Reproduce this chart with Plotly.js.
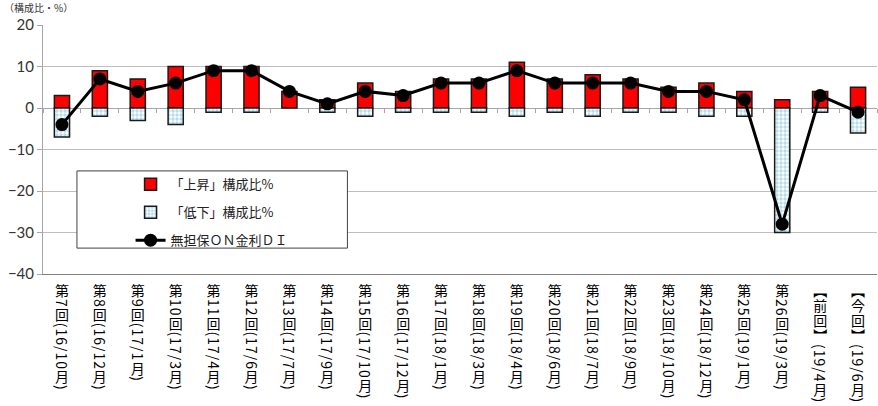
<!DOCTYPE html>
<html>
<head>
<meta charset="utf-8">
<script src="https://cdn.plot.ly/plotly-3.0.1.min.js"></script>
<style>
html,body{margin:0;padding:0;background:#fff;}
#chart{width:878px;height:406px;}
</style>
</head>
<body>
<div id="chart"></div>
<script>
// ---- data ----
const categories = [
  "第7回(16/10月)","第8回(16/12月)","第9回(17/1月)","第10回(17/3月)","第11回(17/4月)",
  "第12回(17/6月)","第13回(17/7月)","第14回(17/9月)","第15回(17/10月)","第16回(17/12月)",
  "第17回(18/1月)","第18回(18/3月)","第19回(18/4月)","第20回(18/6月)","第21回(18/7月)",
  "第22回(18/9月)","第23回(18/10月)","第24回(18/12月)","第25回(19/1月)","第26回(19/3月)",
  "【前回】(19/4月)","【今回】(19/6月)"
];
const upShare   = [3, 9, 7, 10, 10, 10, 4, 2, 6, 4, 7, 7, 11, 7, 8, 7, 5, 6, 4, 2, 4, 5];
const downShare = [-7, -2, -3, -4, -1, -1, 0, -1, -2, -1, -1, -1, -2, -1, -2, -1, -1, -2, -2, -30, -1, -6];
const diValues  = [-4, 7, 4, 6, 9, 9, 4, 1, 4, 3, 6, 6, 9, 6, 6, 6, 4, 4, 2, -28, 3, -1];
const seriesNames = ["「上昇」構成比%", "「低下」構成比%", "無担保ＯＮ金利ＤＩ"];
const yTickVals = [20, 10, 0, -10, -20, -30, -40];
const yRange = [-40, 20];
const unitLabel = "（構成比・%）";

const jp = '"Noto Sans CJK JP", "Noto Sans", sans-serif';
const boundaries = categories.map((c, i) => i - 0.5).concat([categories.length - 0.5]);

const data = [
  {
    type: 'bar', x: categories, y: upShare, name: seriesNames[0], legendgroup: 'a',
    marker: {color: '#ff0000', line: {color: '#1a1a1a', width: 1.5}}
  },
  {
    type: 'bar', x: categories, y: downShare, name: seriesNames[1], legendgroup: 'b',
    marker: {color: '#ffffff', line: {color: '#1a1a1a', width: 1.5},
      pattern: {shape: '.', fgcolor: '#b4dceb', bgcolor: '#ffffff', size: 4, solidity: 0.55}}
  },
  {
    type: 'scatter', mode: 'lines+markers', x: categories, y: diValues, name: seriesNames[2], legendgroup: 'c',
    line: {color: '#000000', width: 3}, marker: {color: '#000000', size: 13}
  },
  {
    type: 'scatter', x: [], y: [], xaxis: 'x2', showlegend: false, hoverinfo: 'skip'
  }
];

const layout = {
  width: 878, height: 406,
  margin: {l: 43, r: 1, t: 25, b: 132},
  paper_bgcolor: '#ffffff', plot_bgcolor: '#ffffff',
  barmode: 'relative', bargap: 0.6,
  showlegend: true,
  legend: {
    x: 0.105, y: 0.42, xanchor: 'left', yanchor: 'top',
    bgcolor: 'rgba(0,0,0,0)', borderwidth: 0,
    traceorder: 'grouped', tracegroupgap: 8,
    font: {family: jp, size: 13, color: '#222'}
  },
  xaxis: {
    type: 'category', range: [-0.5, categories.length - 0.5],
    showgrid: false, showline: true, linecolor: '#7f7f7f', linewidth: 1,
    ticks: '', tickangle: 0,
    tickfont: {family: jp, size: 14, color: '#000'}
  },
  xaxis2: {
    overlaying: 'x', anchor: 'free', side: 'bottom',
    position: (0 - yRange[0]) / (yRange[1] - yRange[0]),
    range: [-0.5, categories.length - 0.5],
    tickmode: 'array', tickvals: boundaries, ticks: 'outside', ticklen: 4, tickcolor: '#a6a6a6',
    showticklabels: false, showgrid: false, showline: false, zeroline: false
  },
  yaxis: {
    range: yRange, tickmode: 'array', tickvals: yTickVals,
    showgrid: true, gridcolor: '#bfbfbf', gridwidth: 1,
    zeroline: true, zerolinecolor: '#a6a6a6', zerolinewidth: 1,
    showline: true, linecolor: '#a6a6a6', linewidth: 1,
    ticks: 'outside', ticklen: 5, tickcolor: '#a6a6a6',
    tickfont: {family: 'Lato, "Open Sans", sans-serif', size: 15, color: '#333'}
  },
  shapes: [{
    type: 'rect', xref: 'paper', yref: 'paper', layer: 'above',
    x0: 0.0407, x1: 0.365, y0: 0.104, y1: 0.414,
    fillcolor: '#ffffff', line: {color: '#404040', width: 1}
  }],
  annotations: [{
    text: unitLabel, xref: 'paper', yref: 'paper', x: -0.048, y: 1.104, xanchor: 'left', yanchor: 'top',
    showarrow: false, borderpad: 0, font: {family: jp, size: 10, color: '#333'}
  }]
};

const gd = document.getElementById('chart');
Plotly.newPlot(gd, data, layout, {staticPlot: true, displayModeBar: false}).then(function () {
  const fl = gd._fullLayout;
  const xa = fl.xaxis;
  const top = fl._size.t + fl._size.h + 10;
  gd.querySelectorAll('.xaxislayer-above .xtick text').forEach(function (t) {
    const d = t.__data__;
    const cx = xa._offset + xa.l2p(d.x);
    t.setAttribute('transform', 'translate(' + cx + ',' + top + ')');
    t.setAttribute('x', 0);
    t.setAttribute('y', 0);
    t.setAttribute('text-anchor', 'start');
    t.style.writingMode = 'vertical-rl';
    t.style.letterSpacing = '1px';
  });
});
</script>
</body>
</html>
